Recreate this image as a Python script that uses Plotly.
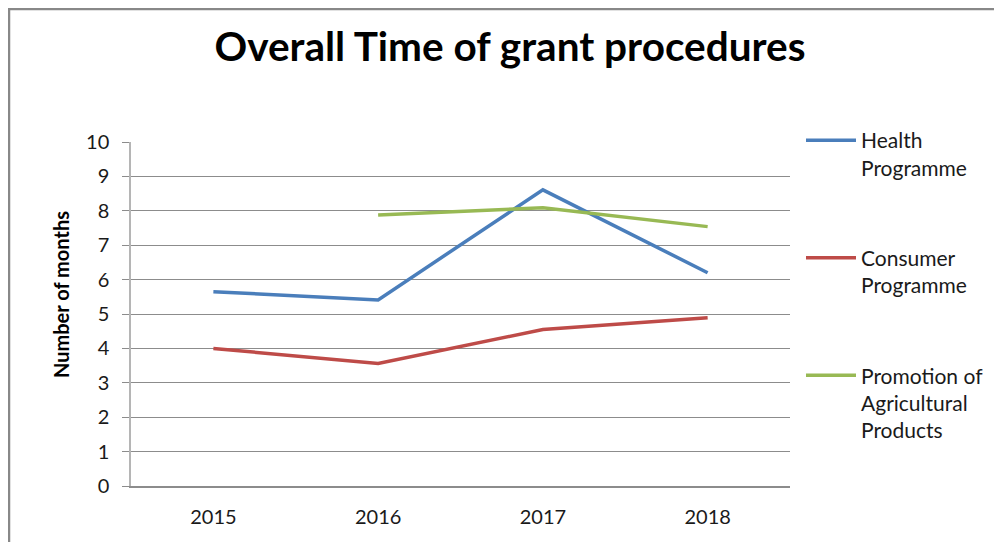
import plotly.graph_objects as go

years = ["2015", "2016", "2017", "2018"]
health = [5.65, 5.41, 8.61, 6.20]
consumer = [4.00, 3.56, 4.55, 4.89]
agri = [None, 7.88, 8.09, 7.54]

series_names = ["Health<br>Programme", "Consumer<br>Programme", "Promotion of<br>Agricultural<br>Products"]
series_colors = ["#4a7ebb", "#be4b48", "#98b954"]
y_ticks = list(range(0, 11))

FONT = "Lato"

fig = go.Figure()
for i, (vals, name, col) in enumerate(zip([health, consumer, agri], series_names, series_colors)):
    fig.add_trace(go.Scatter(
        x=years, y=vals, name=name, mode="lines",
        line=dict(color=col, width=3.5),
        legendgroup=f"g{i}", connectgaps=False,
    ))

# page has an 8px body margin; work in page pixels and convert
OFF = 8
W, H = 1002 - OFF, 542 - OFF
PL, PR, PT, PB = 131, 790, 142, 486  # plot area in page pixels
L, R, T, B = PL - OFF, W - (PR - OFF), PT - OFF, H - (PB - OFF)
pw, ph = W - L - R, H - T - B

def px_x(px):
    return (px - OFF - L) / pw

def px_y(py):
    return (H - B - (py - OFF)) / ph

fig.update_layout(
    width=W, height=H,
    margin=dict(l=L, r=R, t=T, b=B, autoexpand=False),
    paper_bgcolor="white", plot_bgcolor="white",
    font=dict(family=FONT, color="#1a1a1a"),
    title=dict(
        text="<b>Overall Time of grant procedures</b>",
        font=dict(family=FONT, size=40.5, color="black"),
        x=px_x(510), xref="paper", xanchor="center",
        y=1 - (47 - OFF) / H, yref="container", yanchor="middle",
    ),
    showlegend=True,
    legend=dict(
        x=px_x(801), y=px_y(120), xanchor="left", yanchor="top",
        xref="paper", yref="paper",
        font=dict(family=FONT, size=21, color="#1a1a1a"),
        valign="top", tracegroupgap=60, itemwidth=50,
        bgcolor="rgba(0,0,0,0)", traceorder="grouped",
        maxheight=500,
    ),
    xaxis=dict(
        type="category", range=[-0.5, 3.5],
        showgrid=False, showline=True, linecolor="#8c8c8c", linewidth=1.5,
        ticks="", tickfont=dict(family=FONT, size=20, color="#1a1a1a"),
        ticklabelstandoff=12, zeroline=False, fixedrange=True,
    ),
    yaxis=dict(
        range=[0, 10], tickvals=y_ticks, ticktext=[str(v) for v in y_ticks],
        showgrid=True, gridcolor="#8c8c8c", gridwidth=1.2,
        showline=True, linecolor="#b5b5b5", linewidth=1.5,
        ticks="outside", ticklen=7, tickcolor="#8c8c8c", tickwidth=1.2,
        tickfont=dict(family=FONT, size=20, color="#1a1a1a"),
        ticklabelstandoff=9, zeroline=False,
    ),
    annotations=[
        dict(text="<b>Number of months</b>", textangle=-90, showarrow=False,
             xref="paper", yref="paper", x=px_x(61), y=px_y(295),
             xanchor="center", yanchor="middle",
             font=dict(family=FONT, size=20, color="black")),
    ],
    shapes=[
        dict(type="line", xref="paper", yref="paper", x0=px_x(9), x1=px_x(9), y0=px_y(8), y1=px_y(600),
             line=dict(color="#888888", width=2.5)),
        dict(type="line", xref="paper", yref="paper", x0=px_x(8), x1=px_x(1100), y0=px_y(9), y1=px_y(9),
             line=dict(color="#888888", width=2.5)),
    ],
)

fig.write_html("out.html")
